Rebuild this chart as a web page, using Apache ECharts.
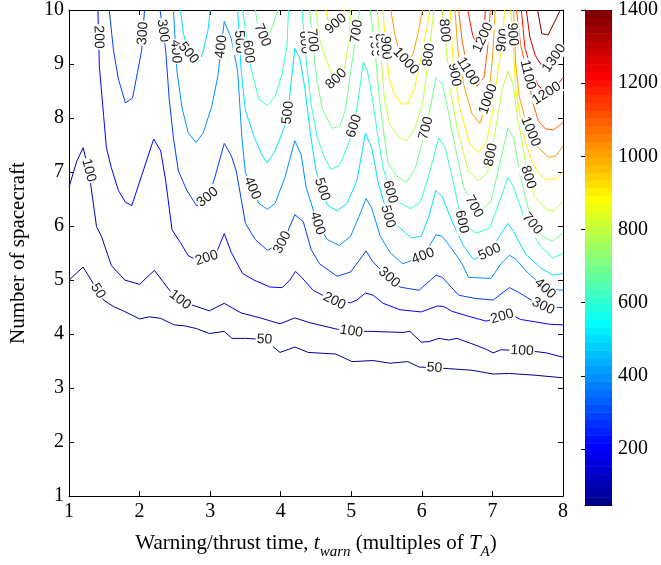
<!DOCTYPE html>
<html><head><meta charset="utf-8">
<script src="https://cdn.jsdelivr.net/npm/echarts@6/dist/echarts.min.js"></script>
<style>html,body{margin:0;padding:0;background:#fff}#c{width:661px;height:565px}</style>
</head><body><div id="c"></div>
<script>
// ---- data ----
const xTicks = [1,2,3,4,5,6,7,8];
const yTicks = [1,2,3,4,5,6,7,8,9,10];
const cbarTicks = [200,400,600,800,1000,1200,1400];
const cbarMin = 47, cbarMax = 1400;
const levels = [50,100,200,300,400,500,600,700,800,900,1000,1100,1200,1300,1400];

const c50 = [[[1,5.0],[1.2,5.24],[1.49,4.63],[1.63,4.51],[1.77,4.43],[2.0,4.28],[2.14,4.32],[2.3,4.29],[2.49,4.17],[2.65,4.15],[2.81,4.1],[2.99,4.01],[3.2,4.05],[3.31,3.92],[3.5,3.92],[3.77,3.9],[3.99,3.66],[4.2,3.76],[4.39,3.66],[4.78,3.63],[5.01,3.49],[5.31,3.51],[5.55,3.46],[5.8,3.49],[5.96,3.39],[6.38,3.36],[6.71,3.33],[7.01,3.26],[7.24,3.27],[7.59,3.24],[8,3.19]]];
const c100 = [[[1,6.72],[1.11,7.2],[1.2,7.45],[1.28,7.03],[1.39,5.99],[1.46,5.81],[1.6,5.27],[1.79,5.0],[2.0,4.92],[2.21,5.18],[2.46,4.75],[2.58,4.63],[2.74,4.54],[2.99,4.43],[3.2,4.57],[3.44,4.39],[3.71,4.3],[3.99,4.19],[4.2,4.3],[4.41,4.21],[4.8,4.09],[5.01,4.05],[5.27,4.05],[5.73,4.03],[5.83,4.05],[5.99,3.85],[6.1,3.86],[6.24,3.92],[6.38,3.89],[6.5,3.92],[6.71,3.82],[6.91,3.72],[7.01,3.65],[7.12,3.71],[7.43,3.69],[7.59,3.68],[7.77,3.65],[8,3.57]]];
const c200 = [[[1.41,10],[1.43,8.96],[1.49,8.05],[1.53,7.45],[1.6,7.08],[1.7,6.66],[1.8,6.44],[1.89,6.38],[2.2,7.61],[2.3,7.39],[2.37,6.84],[2.46,5.93],[2.58,5.69],[2.69,5.45],[2.83,5.36],[2.95,5.41],[3.09,5.51],[3.2,5.86],[3.3,5.51],[3.46,5.12],[3.62,5.0],[3.85,4.87],[4.02,4.86],[4.13,5.0],[4.21,5.16],[4.29,5.06],[4.46,4.81],[4.76,4.61],[4.99,4.58],[5.08,4.63],[5.2,4.76],[5.31,4.72],[5.45,4.57],[5.69,4.45],[5.99,4.41],[6.22,4.52],[6.31,4.51],[6.43,4.42],[6.66,4.33],[6.91,4.24],[7.15,4.33],[7.26,4.36],[7.4,4.27],[7.59,4.23],[7.82,4.18],[8,4.17]]];
const c300 = [
  [[1.57,10],[1.63,9.26],[1.7,8.72],[1.8,8.28],[1.9,8.37],[1.97,8.84],[2.03,9.26],[2.07,10]],
  [[2.29,10],[2.37,9.26],[2.42,8.35],[2.48,7.63],[2.55,7.02],[2.67,6.66],[2.81,6.37],[2.97,6.54],[3.06,6.87],[3.2,7.53],[3.3,7.3],[3.37,7.02],[3.5,6.05],[3.64,5.75],[3.81,5.55],[4.02,5.69],[4.09,5.87],[4.2,6.21],[4.32,6.08],[4.43,5.57],[4.55,5.3],[4.8,5.07],[4.99,5.15],[5.11,5.36],[5.21,5.54],[5.31,5.33],[5.45,5.15],[5.69,4.87],[5.96,4.81],[6.2,5.09],[6.29,5.05],[6.52,4.72],[6.75,4.66],[7.01,4.63],[7.24,4.86],[7.36,4.78],[7.59,4.6],[7.73,4.51],[8,4.49]]
];
const c400 = [[[2.48,10],[2.53,8.87],[2.6,8.2],[2.69,7.72],[2.8,7.55],[2.9,7.72],[3.02,8.2],[3.11,8.78],[3.2,9.79],[3.3,9.47],[3.39,8.87],[3.45,7.63],[3.5,6.99],[3.6,6.69],[3.69,6.42],[3.81,6.31],[3.92,6.42],[4.06,6.9],[4.2,7.58],[4.29,7.32],[4.36,6.72],[4.52,6.05],[4.66,5.75],[4.83,5.64],[4.99,5.81],[5.11,6.18],[5.21,6.51],[5.29,6.33],[5.41,5.81],[5.55,5.51],[5.73,5.3],[6.03,5.45],[6.2,5.84],[6.29,5.81],[6.43,5.57],[6.57,5.3],[6.66,5.05],[6.98,5.03],[7.12,5.3],[7.24,5.46],[7.33,5.39],[7.49,5.15],[7.75,4.84],[8,4.81]]];
const c500 = [
  [[2.58,10],[2.62,9.57],[2.69,9.21],[2.81,9.02],[2.86,9.08],[2.9,9.23],[2.97,9.63],[3.0,10]],
  [[3.39,10],[3.44,8.87],[3.5,8.14],[3.62,7.66],[3.74,7.3],[3.81,7.17],[3.92,7.39],[4.09,7.96],[4.2,9.29],[4.27,9.11],[4.34,8.57],[4.43,7.63],[4.5,7.02],[4.66,6.39],[4.8,6.28],[4.94,6.42],[5.08,6.84],[5.2,7.72],[5.29,7.45],[5.38,6.81],[5.52,6.18],[5.64,6.02],[5.85,5.78],[5.99,5.81],[6.1,6.18],[6.2,6.66],[6.29,6.54],[6.43,6.08],[6.59,5.63],[6.73,5.38],[6.96,5.52],[7.12,5.85],[7.22,6.05],[7.3,5.9],[7.47,5.48],[7.68,5.23],[7.85,5.09],[8,5.12]]
];
const c600 = [
  [[3.46,10],[3.57,8.96],[3.69,8.35],[3.81,8.23],[3.92,8.41],[4.02,8.81],[4.09,9.35],[4.11,10]],
  [[4.3,10],[4.36,9.08],[4.43,8.26],[4.52,7.63],[4.62,7.27],[4.71,7.05],[4.83,7.12],[4.94,7.45],[5.04,7.85],[5.11,8.45],[5.17,9.04],[5.23,8.86],[5.3,8.35],[5.38,7.63],[5.45,7.08],[5.55,6.63],[5.66,6.45],[5.84,6.32],[5.98,6.45],[6.09,6.9],[6.24,7.63],[6.33,7.45],[6.43,6.9],[6.57,6.05],[6.77,5.87],[6.96,5.96],[7.1,6.45],[7.22,6.9],[7.3,6.72],[7.47,6.08],[7.68,5.63],[7.85,5.41],[8,5.49]]
];
const c700 = [
  [[3.64,10],[3.67,9.75],[3.75,9.5],[3.84,9.55],[3.89,9.72],[3.96,10]],
  [[4.41,10],[4.45,9.44],[4.51,8.72],[4.59,8.17],[4.73,7.81],[4.84,7.85],[4.92,8.17],[4.99,8.86],[5.06,9.44],[5.12,10]],
  [[5.27,10],[5.33,9.35],[5.4,8.35],[5.47,7.63],[5.52,7.17],[5.64,6.93],[5.78,6.81],[5.91,7.08],[6.06,7.81],[6.13,8.26],[6.2,8.75],[6.29,8.63],[6.38,8.08],[6.47,7.48],[6.59,6.72],[6.74,6.36],[6.84,6.3],[6.98,6.45],[7.09,7.08],[7.22,7.81],[7.3,7.63],[7.4,6.9],[7.56,6.05],[7.71,5.81],[7.85,5.72],[8,5.87]]
];
const c800 = [
  [[4.5,10],[4.55,9.47],[4.62,9.17],[4.76,8.69],[4.9,8.87],[4.97,9.47],[4.99,10]],
  [[5.37,10],[5.41,9.35],[5.47,8.35],[5.54,7.9],[5.66,7.66],[5.78,7.57],[5.9,7.81],[6.01,8.26],[6.1,9.17],[6.17,10]],
  [[6.29,10],[6.32,9.62],[6.4,8.54],[6.5,7.81],[6.66,7.02],[6.8,6.84],[6.93,6.99],[6.98,7.32],[7.07,7.99],[7.14,8.54],[7.22,8.87],[7.29,8.63],[7.36,7.99],[7.44,7.4],[7.5,6.93],[7.59,6.57],[7.75,6.32],[7.86,6.27],[8,6.45]]
];
const c900 = [
  [[4.64,10],[4.67,9.81],[4.77,9.73],[4.87,9.84],[4.9,10]],
  [[5.45,10],[5.49,9.26],[5.54,8.72],[5.61,8.45],[5.71,8.26],[5.8,8.26],[5.9,8.57],[5.99,9.11],[6.08,9.72],[6.11,10]],
  [[6.4,10],[6.45,8.9],[6.54,8.17],[6.68,7.51],[6.8,7.36],[6.92,7.57],[7.01,8.17],[7.08,8.9],[7.15,9.44],[7.17,10]],
  [[7.26,10],[7.29,9.44],[7.33,8.54],[7.4,7.96],[7.48,7.5],[7.56,7.2],[7.65,6.98],[7.77,6.85],[7.9,6.88],[8,7.0]]
];
const c1000 = [
  [[5.56,10],[5.62,9.53],[5.69,9.17],[5.79,9.03],[5.87,9.17],[5.94,9.53],[6.01,10]],
  [[6.47,10],[6.51,9.26],[6.59,8.63],[6.71,8.08],[6.82,7.9],[6.94,8.35],[7.0,9.08],[7.04,10]],
  [[7.3,10],[7.33,9.0],[7.38,8.4],[7.46,8.0],[7.54,7.75],[7.65,7.45],[7.8,7.27],[7.9,7.3],[8,7.48]]
];
const c1100 = [
  [[6.52,10],[6.57,9.44],[6.65,8.87],[6.78,8.59],[6.88,8.75],[6.93,9.26],[6.97,10]],
  [[7.34,10],[7.4,9.35],[7.5,8.8],[7.57,8.3],[7.65,7.95],[7.75,7.8],[7.87,7.78],[8,7.92]]
];
const c1200 = [
  [[6.65,10],[6.72,9.53],[6.8,9.3],[6.88,9.53],[6.9,10]],
  [[7.41,10],[7.46,9.3],[7.54,8.95],[7.64,8.62],[7.76,8.45],[7.88,8.55],[8,8.75]]
];
const c1300 = [[[7.48,10],[7.53,9.5],[7.61,9.15],[7.71,8.95],[7.86,9.08],[8,9.35]]];
const c1400 = [[[7.64,10],[7.7,9.56],[7.79,9.54],[7.88,9.78],[7.96,10]]];

const contours = {50:c50,100:c100,200:c200,300:c300,400:c400,500:c500,600:c600,700:c700,800:c800,900:c900,1000:c1000,1100:c1100,1200:c1200,1300:c1300,1400:c1400};

// contour labels: [level, x, y]
const contourLabels = [
  [50,1.39,4.78],[50,3.77,3.9],[50,6.18,3.38],
  [100,1.28,7.03],[100,2.57,4.63],[100,5.0,4.05],[100,7.42,3.7],
  [200,1.42,9.5],[200,2.95,5.41],[200,4.76,4.61],[200,7.14,4.32],
  [300,2.04,9.57],[300,2.35,9.62],[300,2.96,6.54],[300,4.02,5.7],[300,5.51,5.01],[300,7.72,4.52],
  [400,2.5,9.23],[400,3.16,9.32],[400,3.59,6.7],[400,4.52,6.05],[400,6.02,5.43],[400,7.75,4.85],
  [500,2.68,9.19],[500,3.41,9.41],[500,4.09,8.1],[500,4.57,6.67],[500,5.52,6.18],[500,6.96,5.52],
  [600,3.55,9.23],[600,4.34,9.4],[600,5.04,7.85],[600,5.55,6.63],[600,6.57,6.08],
  [700,3.73,9.53],[700,4.45,9.44],[700,5.1,9.6],[700,5.33,9.35],[700,6.06,7.81],[700,6.74,6.36],[700,7.57,6.05],
  [800,4.79,8.72],[800,5.42,9.35],[800,6.1,9.17],[800,6.32,9.62],[800,6.98,7.32],[800,7.5,6.9],
  [900,4.77,9.76],[900,5.5,9.3],[900,6.45,8.8],[900,7.15,9.44],[900,7.3,9.55],
  [1000,5.77,9.05],[1000,6.94,8.35],[1000,7.54,7.75],
  [1100,6.66,8.87],[1100,7.5,8.8],
  [1200,6.85,9.5],[1200,7.77,8.45],
  [1300,7.88,9.1]
];

// ---- colormap (MATLAB jet, 64 entries) ----
function jetColor(t){
  const c = v => Math.round(255*Math.max(0,Math.min(1,v)));
  return 'rgb(' + c(1.5-Math.abs(4*t-3)) + ',' + c(1.5-Math.abs(4*t-2)) + ',' + c(1.5-Math.abs(4*t-1)) + ')';
}
const jet64 = [];
for (let i = 1; i <= 64; i++) jet64.push(jetColor(i/64));
function levelColor(v){
  let idx = Math.floor((v - cbarMin)/(cbarMax - cbarMin)*64);
  idx = Math.max(0, Math.min(63, idx));
  return jet64[idx];
}
const bandIdx = jet64.map((_, i) => i);

// ---- series ----
const series = [];
levels.forEach(lev => {
  contours[lev].forEach(seg => {
    series.push({
      type:'line', xAxisIndex:0, yAxisIndex:0, data:seg, showSymbol:false, symbol:'none',
      lineStyle:{color:levelColor(lev), width:1}, silent:true, animation:false, z:2
    });
  });
});

series.push({
  type:'custom', xAxisIndex:0, yAxisIndex:0, data:contourLabels, encode:{x:1,y:2}, silent:true, animation:false, z:5,
  renderItem:function(params, api){
    const lev = api.value(0);
    const p = api.coord([api.value(1), api.value(2)]);
    let best = null;
    contours[lev].forEach(seg => {
      for (let i = 0; i < seg.length-1; i++){
        const a = api.coord(seg[i]), b = api.coord(seg[i+1]);
        const dx = b[0]-a[0], dy = b[1]-a[1];
        const L2 = dx*dx+dy*dy || 1;
        let t = ((p[0]-a[0])*dx + (p[1]-a[1])*dy)/L2;
        t = Math.max(0, Math.min(1, t));
        const q = [a[0]+t*dx, a[1]+t*dy];
        const d = (q[0]-p[0])*(q[0]-p[0]) + (q[1]-p[1])*(q[1]-p[1]);
        if (!best || d < best.d) best = {d:d, q:q, dx:dx, dy:dy};
      }
    });
    let ang = Math.atan2(-best.dy, best.dx);
    if (ang > Math.PI/2) ang -= Math.PI;
    if (ang < -Math.PI/2) ang += Math.PI;
    return {
      type:'text', x:best.q[0], y:best.q[1], rotation:ang,
      style:{text:String(lev), font:'14px "Liberation Sans", Arial, sans-serif', fill:'#1a1a1a',
        align:'center', verticalAlign:'middle', backgroundColor:'#ffffff', padding:[0,1]}
    };
  }
});

// colorbar bands
series.push({
  type:'custom', xAxisIndex:2, yAxisIndex:2, data:bandIdx, silent:true, animation:false, z:1,
  renderItem:function(params, api){
    const i = api.value(0);
    const lo = cbarMin + (cbarMax-cbarMin)*i/64, hi = cbarMin + (cbarMax-cbarMin)*(i+1)/64;
    const a = api.coord([0, hi]), b = api.coord([1, lo]);
    return {type:'rect', shape:{x:a[0], y:a[1], width:b[0]-a[0], height:b[1]-a[1]+0.5},
      style:{fill:jet64[i]}};
  },
  encode:{x:0, y:0}
});

const serif = '"Liberation Serif", "Times New Roman", serif';
const tickLbl = {fontFamily:serif, fontSize:20, color:'#000'};
const axLine = {show:true, lineStyle:{color:'#000', width:1}};
const inTick = {show:true, inside:true, length:5, lineStyle:{color:'#000'}};

const option = {
  animation:false,
  backgroundColor:'#fff',
  grid:[
    {left:60, top:9, width:503, height:496, containLabel:false, show:false},
    {left:585, top:9, width:27, height:496, containLabel:false, show:false}
  ],
  xAxis:[
    {type:'value', gridIndex:0, position:'bottom', min:1, max:8, interval:1,
     axisLine:axLine, axisTick:inTick, splitLine:{show:false},
     axisLabel:Object.assign({margin:6}, tickLbl),
     name:'{n|Warning/thrust time, }{i|t}{s|warn}{n| (multiples of }{i|T}{s|A}{n|)}',
     nameLocation:'middle', nameGap:33,
     nameTextStyle:{rich:{
       n:{fontFamily:serif, fontSize:21, color:'#000', lineHeight:24},
       i:{fontFamily:serif, fontSize:21, fontStyle:'italic', color:'#000', lineHeight:24},
       s:{fontFamily:serif, fontSize:15, fontStyle:'italic', color:'#000', lineHeight:24, padding:[18,0,0,0]}
     }}},
    {type:'value', gridIndex:0, position:'top', min:1, max:8, interval:1,
     axisLine:axLine, axisTick:inTick, axisLabel:{show:false}, splitLine:{show:false}},
    {type:'value', gridIndex:1, position:'bottom', min:0, max:1,
     axisLine:axLine, axisTick:{show:false}, axisLabel:{show:false}, splitLine:{show:false}},
    {type:'value', gridIndex:1, position:'top', min:0, max:1,
     axisLine:axLine, axisTick:{show:false}, axisLabel:{show:false}, splitLine:{show:false}}
  ],
  yAxis:[
    {type:'value', gridIndex:0, position:'left', min:1, max:10, interval:1,
     axisLine:axLine, axisTick:inTick, splitLine:{show:false},
     axisLabel:Object.assign({margin:5}, tickLbl),
     name:'Number of spacecraft', nameLocation:'middle', nameGap:40, nameRotate:90,
     nameTextStyle:{fontFamily:serif, fontSize:21, color:'#000'}},
    {type:'value', gridIndex:0, position:'right', min:1, max:10, interval:1,
     axisLine:axLine, axisTick:inTick, axisLabel:{show:false}, splitLine:{show:false}},
    {type:'value', gridIndex:1, position:'right', min:cbarMin, max:cbarMax,
     axisLine:axLine, splitLine:{show:false},
     axisTick:{show:true, inside:true, length:4, customValues:cbarTicks, lineStyle:{color:'#000'}},
     axisLabel:Object.assign({margin:6, customValues:cbarTicks, formatter:function(v){return String(Math.round(v));}}, tickLbl)},
    {type:'value', gridIndex:1, position:'left', min:cbarMin, max:cbarMax,
     axisLine:axLine, axisTick:{show:false}, axisLabel:{show:false}, splitLine:{show:false}}
  ],
  series:series
};

const chart = echarts.init(document.getElementById('c'), null, {renderer:'canvas'});
chart.setOption(option);
</script>
</body></html>
